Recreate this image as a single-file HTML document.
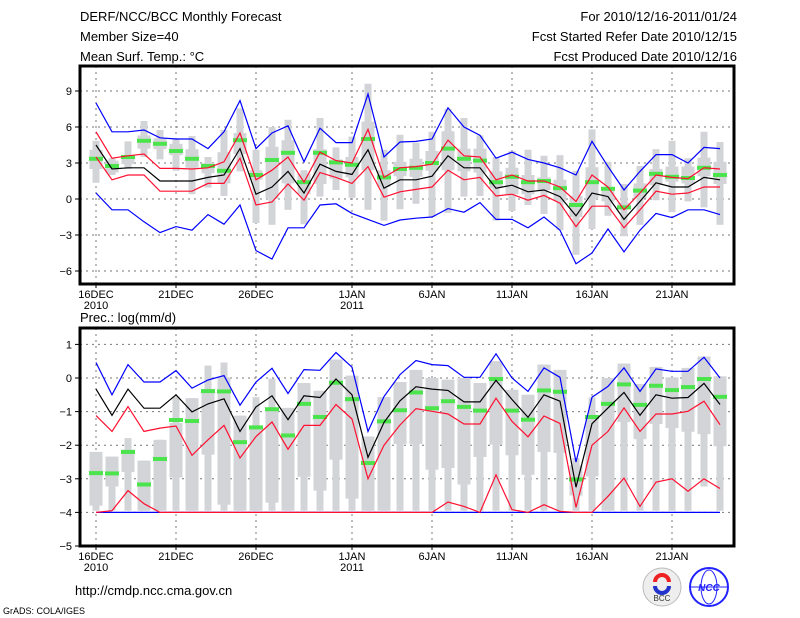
<!DOCTYPE html>
<html><head><meta charset="utf-8">
<style>
html,body{margin:0;padding:0;background:#fff;}
svg{display:block;font-family:"Liberation Sans",sans-serif;}
</style></head>
<body>
<svg id="c" width="800" height="618" viewBox="0 0 800 618" xmlns="http://www.w3.org/2000/svg">
<g font-size="13" fill="#000">
<text x="80" y="21">DERF/NCC/BCC Monthly Forecast</text>
<text x="80" y="41">Member Size=40</text>
<text x="80" y="61">Mean Surf. Temp.: °C</text>
</g>
<g font-size="13" fill="#000" text-anchor="end">
<text x="737" y="21">For 2010/12/16-2011/01/24</text>
<text x="737" y="41">Fcst Started Refer Date 2010/12/15</text>
<text x="737" y="61">Fcst Produced Date 2010/12/16</text>
</g>
<text x="80" y="322" font-size="13">Prec.: log(mm/d)</text>
<text x="75" y="595" font-size="13">http://cmdp.ncc.cma.gov.cn</text>
<text x="3" y="614" font-size="9">GrADS: COLA/IGES</text>
<g>
<circle cx="662" cy="587" r="19" fill="#eee" stroke="#bbb"/>
<path d="M655 582 a7 7 0 1 1 14 0" fill="none" stroke="#e22" stroke-width="4"/>
<path d="M669 586 a7 7 0 1 1 -14 0" fill="none" stroke="#23c" stroke-width="4"/>
<text x="662" y="601" font-size="8" text-anchor="middle" fill="#333">BCC</text>
</g>
<g>
<circle cx="709" cy="587" r="19" fill="#fff" stroke="#22f" stroke-width="2"/>
<ellipse cx="709" cy="587" rx="8" ry="17" fill="none" stroke="#22f"/>
<line x1="691" y1="587" x2="727" y2="587" stroke="#22f"/>
<text x="709" y="591" font-size="10" font-style="italic" font-weight="bold" text-anchor="middle" fill="#22f">NCC</text>
</g>
</svg>
<script>
// ---- Temperature panel data (°C), days 16 Dec 2010 .. 24 Jan 2011 ----
const days = ['16DEC','17DEC','18DEC','19DEC','20DEC','21DEC','22DEC','23DEC','24DEC','25DEC','26DEC','27DEC','28DEC','29DEC','30DEC','31DEC','1JAN','2JAN','3JAN','4JAN','5JAN','6JAN','7JAN','8JAN','9JAN','10JAN','11JAN','12JAN','13JAN','14JAN','15JAN','16JAN','17JAN','18JAN','19JAN','20JAN','21JAN','22JAN','23JAN','24JAN'];
const tickDays = [0,5,10,16,21,26,31,36];
const tickNames = ['16DEC','21DEC','26DEC','1JAN','6JAN','11JAN','16JAN','21JAN'];
const tickYears = {0:'2010',16:'2011'};
const tTicks = [9,6,3,0,-3,-6];
const pTicks = [1,0,-1,-2,-3,-4,-5];

const tBlueHi = [8.0,5.6,5.6,5.75,5.1,5.0,5.0,4.2,5.6,8.2,4.2,5.5,6.1,3.1,5.9,4.7,4.7,8.75,3.5,4.75,4.8,5.0,7.6,6.0,5.3,3.4,3.9,3.3,3.0,2.6,2.0,4.8,2.7,0.75,2.3,3.7,3.7,3.0,4.3,4.2];
const tBlueLo = [0.5,-0.9,-0.9,-1.9,-2.8,-2.3,-2.6,-1.3,-2.1,-0.5,-4.3,-5.0,-2.4,-2.4,-0.5,-0.4,-1.2,-1.7,-2.2,-1.75,-1.6,-1.5,-0.8,-1.1,-0.3,-1.7,-1.7,-2.4,-1.5,-2.6,-5.4,-4.5,-2.5,-4.4,-2.6,-1.2,-1.55,-0.9,-0.9,-1.3];
const tRedHi = [5.6,3.4,3.6,3.75,2.55,2.55,2.5,2.6,3.1,5.5,1.6,2.4,3.5,1.4,3.9,3.2,3.0,5.8,1.8,2.6,2.7,2.9,4.9,3.6,3.5,1.6,2.0,1.5,1.5,1.0,-0.2,2.0,1.0,-0.9,0.5,2.0,1.8,1.7,2.6,2.5];
const tRedLo = [3.5,1.6,2.0,2.0,0.65,0.65,0.65,1.3,1.3,3.4,-0.5,-0.25,1.25,-0.1,2.2,1.8,1.3,2.7,0.15,0.6,0.8,1.0,2.4,1.6,1.8,0.25,0.4,-0.1,0.3,-0.35,-2.3,-0.6,-0.6,-2.4,-0.9,0.65,0.4,0.5,1.0,1.0];
const tMean = [4.5,2.5,2.6,2.6,1.5,1.5,1.5,1.8,2.0,4.2,0.4,1.0,2.3,0.5,2.9,2.3,2.05,4.1,0.9,1.6,1.6,1.9,3.6,2.6,2.6,0.9,1.15,0.6,0.75,0.2,-1.4,0.5,0.2,-1.7,-0.2,1.35,1.0,1.0,1.8,1.6];
const tObs = [3.35,2.75,3.5,4.85,4.6,4.0,3.35,2.75,2.35,4.9,2.0,3.25,3.85,1.4,3.85,3.05,2.85,5.0,1.8,2.5,2.6,3.0,4.2,3.35,3.2,1.4,1.85,1.4,1.5,0.9,-0.5,1.4,0.85,-0.7,0.7,2.1,1.85,1.75,2.6,2.0];
const tBoxMax = [4.85,3.4,4.8,6.5,5.75,5.05,5.25,3.5,5.75,7.55,4.1,6.0,6.6,2.4,6.75,4.3,5.2,9.6,4.1,5.35,4.7,5.6,7.5,6.75,5.3,3.5,4.0,4.1,3.6,3.65,2.35,5.8,3.1,1.25,2.75,4.15,4.85,3.4,5.6,4.75];
const tBoxMin = [1.35,2.0,2.5,3.5,3.3,2.35,0.4,0.95,0.25,2.3,-2.0,-2.15,-0.9,-2.1,0.2,0.75,0.1,-0.9,-1.8,-0.85,-0.4,-1.5,-1.15,0.2,0.25,-1.8,-1.0,-0.5,-1.25,-2.6,-4.65,-2.5,-1.4,-3.1,-2.15,-0.1,-1.1,-0.2,-0.7,-2.15];
const tBoxQ3 = [4.1,3.2,3.65,5.3,5.05,4.6,4.15,3.0,3.9,5.5,2.4,4.35,4.9,2.1,4.15,3.3,3.5,6.45,2.4,3.1,3.35,4.0,5.65,4.2,4.2,2.3,2.6,2.0,1.8,1.6,0.25,2.65,1.0,-0.35,1.3,2.5,2.7,2.7,3.45,3.1];
const tBoxQ1 = [2.5,2.2,2.9,4.2,4.15,3.65,2.6,2.15,1.3,3.75,1.6,0.0,1.3,0.4,1.25,1.7,1.8,2.4,1.0,1.9,1.85,2.35,2.4,2.3,2.2,0.9,0.4,0.4,0.75,-0.15,-1.5,0.0,-0.2,-0.85,0.05,1.15,1.45,1.3,1.9,1.25];

// ---- Precipitation panel data (log mm/d) ----
const pBlueHi = [0.46,-0.5,0.4,-0.12,-0.12,0.22,-0.3,-0.06,0.07,-0.81,-0.12,0.29,-0.46,0.25,0.23,0.76,0.32,-1.59,-0.55,0.1,0.52,0.4,0.37,0.02,0.02,0.72,0.0,-0.4,0.3,0.02,-2.5,-0.57,-0.25,0.3,-0.4,0.27,0.2,0.2,0.62,0.0];
const pBlueLo = [-4,-4,-4,-4,-4,-4,-4,-4,-4,-4,-4,-4,-4,-4,-4,-4,-4,-4,-4,-4,-4,-4,-4,-4,-4,-4,-4,-4,-4,-4,-4,-4,-4,-4,-4,-4,-4,-4,-4,-4];
const pRedHi = [-1.12,-1.59,-0.85,-1.59,-1.49,-1.43,-2.3,-1.84,-1.41,-2.38,-1.74,-1.31,-2.12,-1.41,-1.41,-0.79,-1.22,-3.0,-2.0,-1.4,-0.91,-0.99,-1.07,-1.37,-1.37,-0.6,-1.29,-1.75,-1.13,-1.35,-3.85,-2.0,-1.59,-0.89,-1.59,-1.07,-1.07,-0.99,-0.69,-1.39];
const pRedLo = [-4,-3.95,-3.35,-3.74,-4,-4,-4,-4,-4,-4,-4,-4,-4,-4,-4,-4,-4,-4,-4,-4,-4,-4,-3.69,-3.82,-4,-2.88,-3.92,-4,-3.77,-3.97,-4,-4,-3.52,-2.98,-3.82,-3.1,-3.0,-3.37,-3.0,-3.29];
const pMean = [-0.33,-1.11,-0.33,-0.9,-0.9,-0.5,-1.01,-0.77,-0.62,-1.59,-0.86,-0.53,-1.24,-0.53,-0.58,-0.03,-0.5,-2.36,-1.32,-0.68,-0.26,-0.33,-0.37,-0.71,-0.71,-0.07,-0.64,-1.17,-0.5,-0.69,-3.25,-1.36,-0.89,-0.43,-1.11,-0.5,-0.6,-0.58,-0.16,-0.79];
const pObs = [-2.83,-2.84,-2.2,-3.17,-2.41,-1.25,-1.28,-0.39,-0.4,-1.91,-1.47,-0.93,-1.71,-0.77,-1.16,-0.14,-0.63,-2.53,-1.29,-0.96,-0.43,-0.9,-0.69,-0.86,-0.97,-0.03,-0.97,-1.24,-0.37,-0.41,-3.02,-1.16,-0.77,-0.19,-0.8,-0.23,-0.36,-0.27,-0.03,-0.56];
const pBoxMax = [-2.2,-2.34,-1.79,-2.46,-1.84,-0.55,-0.6,0.37,0.46,-1.12,-0.57,-0.02,-0.89,-0.15,-0.38,0.55,0.07,-1.74,-0.57,-0.12,0.24,0.0,-0.05,0.0,-0.15,0.5,-0.35,-0.5,0.4,0.24,-2.38,-0.58,0.0,0.43,-0.18,0.33,0.02,0.3,0.64,0.05];
const pBoxMin = [-3.95,-3.95,-3.95,-3.95,-3.95,-3.95,-3.95,-3.95,-3.95,-3.95,-3.95,-3.95,-3.95,-3.95,-3.95,-3.95,-3.95,-3.95,-3.95,-3.95,-3.95,-3.95,-3.95,-3.95,-3.95,-3.95,-3.95,-3.95,-3.95,-3.95,-3.95,-3.95,-3.95,-3.95,-3.95,-3.95,-3.95,-3.95,-3.23,-3.95];
const pBoxQ3 = [-2.2,-2.34,-2.13,-2.46,-1.84,-1.34,-0.6,-0.33,0.02,-1.12,-1.49,-0.89,-0.89,-0.15,-0.38,0.55,0.07,-1.74,-0.57,-0.12,0.24,0.0,-0.05,0.0,-0.15,0.5,-0.35,-0.5,0.4,0.24,-2.6,-1.14,0.0,0.43,-0.18,0.33,0.02,0.3,0.64,0.05];
const pBoxQ1 = [-3.8,-3.23,-2.8,-3.95,-3.95,-2.96,-3.95,-2.28,-3.77,-3.95,-3.95,-3.71,-3.95,-2.94,-3.35,-2.43,-3.59,-3.95,-3.95,-1.96,-1.96,-2.73,-2.68,-3.17,-2.35,-1.98,-2.3,-2.88,-2.2,-2.23,-3.5,-2.93,-3.95,-1.31,-1.82,-1.37,-1.49,-1.6,-1.67,-2.03];

const NS = 'http://www.w3.org/2000/svg';
const svg = document.getElementById('c');
const X0 = 80, X1 = 734;
const xs = i => 96 + 16 * i;
function mk(tag, attrs, parent) {
  const e = document.createElementNS(NS, tag);
  for (const k in attrs) e.setAttribute(k, attrs[k]);
  (parent || svg).appendChild(e);
  return e;
}
function panel(name, top, bottom, yfun, ticks, series) {
  const g = mk('g', {});
  
  
  const grid = mk('g', {stroke: '#777', 'stroke-width': 1, 'stroke-dasharray': '2,4'}, g);
  
  
  ticks.forEach(v => { const y = yfun(v); if (y > top + 2 && y < bottom - 2) mk('line', {x1: X0, x2: X1, y1: y, y2: y}, grid); });
  tickDays.forEach(d => mk('line', {x1: xs(d), x2: xs(d), y1: top, y2: bottom}, grid));
  // boxes
  const boxes = mk('g', {fill: '#d3d4d8'}, g);
  
  
  for (let i = 0; i < days.length; i++) {
    const a = yfun(series.max[i]), b = yfun(series.min[i]);
    const r1 = mk('rect', {x: xs(i) - 3.5, y: a, width: 7, height: Math.max(1, b - a)}, boxes);
    
    
    const c = yfun(series.q3[i]), d = yfun(series.q1[i]);
    const r2 = mk('rect', {x: xs(i) - 6.5, y: c, width: 13, height: Math.max(1, d - c)}, boxes);
    
    
  }
  // observed markers
  const obs = mk('g', {fill: '#4ce44c'}, g);
  
  
  series.obs.forEach((v, i) => {
    const r = mk('rect', {x: xs(i) - 7, y: yfun(v) - 2, width: 14, height: 4}, obs);
    
    
  });
  const lines = [['blueLo', '#0000ff', 'lower-bound-line'], ['redLo', '#ff1030', 'lower-percentile-line'], ['blueHi', '#0000ff', 'upper-bound-line'], ['redHi', '#ff1030', 'upper-percentile-line'], ['mean', '#000', 'ensemble-mean-line']];
  lines.forEach(([k, col, nm]) => {
    const pts = series[k].map((v, i) => xs(i) + ',' + yfun(v).toFixed(1)).join(' ');
    const pl = mk('polyline', {points: pts, fill: 'none', stroke: col, 'stroke-width': 1.2}, g);
    
    
  });
  // frame
  const fr = mk('path', {d: `M${X0} ${top}H${X1}V${bottom}H${X0}Z`, fill: 'none', stroke: '#000', 'stroke-width': 3}, g);
  
  
  // y ticks
  const yax = mk('g', {'font-size': 11, 'text-anchor': 'end'}, g);
  
  
  ticks.forEach(v => {
    const y = yfun(v);
    mk('line', {x1: X0 - 5, x2: X0, y1: y, y2: y, stroke: '#000'}, yax);
    const t = mk('text', {x: X0 - 8, y: y + 4}, yax);
    t.textContent = v < 0 ? '\u2212' + Math.abs(v) : String(v);
    
    
  });
  const xax = mk('g', {'font-size': 11, 'text-anchor': 'middle'}, g);
  
  
  tickDays.forEach((d, j) => {
    mk('line', {x1: xs(d), x2: xs(d), y1: bottom, y2: bottom + 4, stroke: '#000'}, xax);
    const t = mk('text', {x: xs(d), y: bottom + 14}, xax);
    t.textContent = tickNames[j];
    
    
    if (tickYears[d]) {
      const t2 = mk('text', {x: xs(d), y: bottom + 25}, xax);
      t2.textContent = tickYears[d];
      
      
    }
  });
}
const yT = v => 199 - 12 * v;
const yP = v => 378 - 33.6 * v;
const firstText = svg.querySelector('text');
panel('temperature-panel', 66, 284, yT, tTicks, {max: tBoxMax, min: tBoxMin, q3: tBoxQ3, q1: tBoxQ1, obs: tObs, blueHi: tBlueHi, blueLo: tBlueLo, redHi: tRedHi, redLo: tRedLo, mean: tMean});
panel('precipitation-panel', 328, 546, yP, pTicks, {max: pBoxMax, min: pBoxMin, q3: pBoxQ3, q1: pBoxQ1, obs: pObs, blueHi: pBlueHi, blueLo: pBlueLo, redHi: pRedHi, redLo: pRedLo, mean: pMean});
</script>
</body></html>
